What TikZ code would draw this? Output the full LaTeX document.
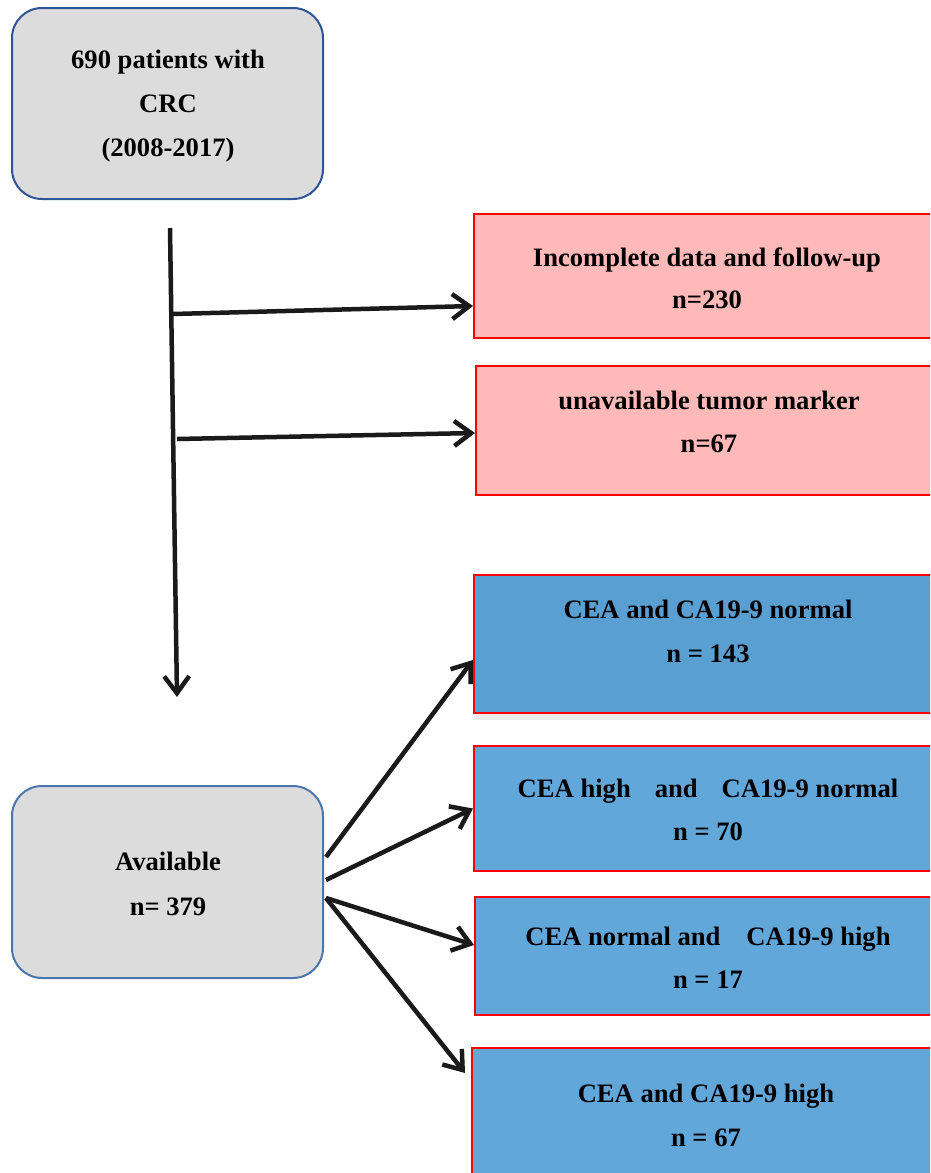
\documentclass[tikz,border=0pt]{standalone}
\usepackage{fontspec}
\setmainfont{Liberation Serif}
\usetikzlibrary{arrows.meta,shadows,calc}
\definecolor{boxgray}{HTML}{DCDCDC}
\definecolor{topblue}{HTML}{2F5597}
\definecolor{avblue}{HTML}{4A76AC}
\definecolor{pinkfill}{HTML}{FFB9B9}
\definecolor{redline}{HTML}{FF0000}
\definecolor{bluefillA}{HTML}{5A9FD1}
\definecolor{bluefillB}{HTML}{62A7D9}
\definecolor{arrowblack}{HTML}{1A1A1A}
\tikzset{
  graybox/.style={draw, line width=2pt, fill=boxgray, rounded corners=30pt, inner sep=0pt},
  pinkbox/.style={draw=redline, line width=2pt, fill=pinkfill, inner sep=0pt},
  bluebox/.style={draw=redline, line width=2pt, fill=bluefillB, inner sep=0pt},
  txt/.style={align=center, inner sep=0pt, font=\fontsize{26.6}{44}\selectfont\bfseries},
  arr/.style={draw=arrowblack, line width=4.5pt, -{Straight Barb[length=17pt,width=25pt]}},
}
\begin{document}
\begin{tikzpicture}[x=1pt,y=-1pt]
\clip (0,0) rectangle (930,1173);
\fill[white] (0,0) rectangle (930,1173);
% boxes
\node[graybox, draw=topblue, minimum width=311pt, minimum height=191pt] (top) at (167.5,103.5) {};
\node[graybox, draw=avblue, minimum width=311pt, minimum height=192pt] (av) at (167.5,882) {};
\node[pinkbox, minimum width=471pt, minimum height=124pt] (p1) at (709.5,276) {};
\node[pinkbox, minimum width=469pt, minimum height=129pt] (p2) at (710.5,430.5) {};
\node[bluebox, fill=bluefillA, minimum width=471pt, minimum height=138pt, drop shadow={opacity=0.15, shadow xshift=0pt, shadow yshift=-7pt}] (b1) at (709.5,644) {};
\node[bluebox, minimum width=471pt, minimum height=125pt] (b2) at (709.5,808.5) {};
\node[bluebox, minimum width=470pt, minimum height=118pt] (b3) at (710,956) {};
\node[bluebox, minimum width=473pt, minimum height=142pt] (b4) at (708.5,1119) {};
% texts
\node[txt] (toptxt) at (168,106) {690 patients with\\CRC\\(2008-2017)};
\node[txt, font=\fontsize{26.6}{45}\selectfont\bfseries] (avtxt) at (168,884) {Available\\n= 379};
\node[txt, font=\fontsize{26.6}{42}\selectfont\bfseries] (p1txt) at (707,278) {Incomplete data and follow-up\\n=230};
\node[txt, font=\fontsize{26.6}{43}\selectfont\bfseries] (p2txt) at (709,422) {unavailable tumor marker\\n=67};
\node[txt] (b1txt) at (708,631) {CEA and CA19-9 normal\\n = 143};
\node[txt, font=\fontsize{26.6}{43}\selectfont\bfseries] (b2txt) at (708,810) {CEA high\hspace{24pt}and\hspace{24pt}CA19-9 normal\\n = 70};
\node[txt, font=\fontsize{26.6}{43}\selectfont\bfseries] (b3txt) at (708,958) {CEA normal and\hspace{26pt}CA19-9 high\\n = 17};
\node[txt] (b4txt) at (706,1115) {CEA and CA19-9 high\\n = 67};
% connectors
\coordinate (vtop) at (170,228);
\coordinate (vbot) at (177,697);
\coordinate (h1) at (173,314);
\coordinate (h2) at (177,439);
\draw[arr] (vtop) -- (vbot);
\draw[arr] (h1) -- ([yshift=-30pt]p1.west);
\draw[arr] (h2) -- ([yshift=-2.5pt]p2.west);
\draw[arr] ([shift={(2pt,25pt)}]av.east) -- ([yshift=-16pt]b1.west);
\draw[arr] ([shift={(2pt,2pt)}]av.east) -- (b2.west);
\draw[arr] ([shift={(2pt,-16pt)}]av.east) -- ([yshift=11pt]b3.west);
\draw[arr] ([shift={(2pt,-16pt)}]av.east) -- ([shift={(-6pt,-26pt)}]b4.north west);
\end{tikzpicture}
\end{document}
